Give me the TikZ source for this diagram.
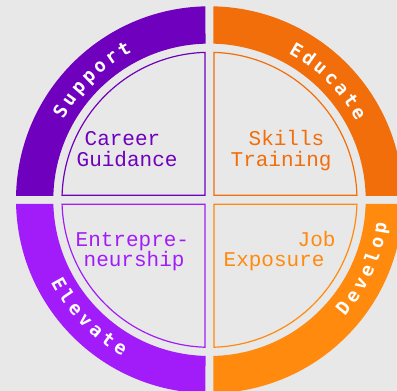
\documentclass[tikz,border=0pt]{standalone}
\usepackage{fontspec}
\newfontfamily\monofont{Liberation Mono}
\newfontfamily\ringfont{DejaVu Sans Mono}
\definecolor{cSup}{HTML}{6F00BE}
\definecolor{cEdu}{HTML}{F26E0A}
\definecolor{cEle}{HTML}{A21CFA}
\definecolor{cDev}{HTML}{FF8A0D}
\definecolor{bgc}{HTML}{E8E8E8}
\tikzset{
  ringlbl/.style={font=\ringfont\bfseries\fontsize{18.5}{18.5}\selectfont, text=white, inner sep=0pt, anchor=base},
  innerlbl/.style={font=\monofont\fontsize{21}{21}\selectfont, inner sep=0pt, anchor=base west},
  quadline/.style={line width=1.2pt},
}
\begin{document}
\begin{tikzpicture}[x=1pt,y=1pt]
\useasboundingbox (-209.5,-191.2) rectangle (187.5,199.8);
\fill[bgc] (-209.5,-191.2) rectangle (187.5,199.8);
\clip (-209.5,-191.2) rectangle (187.5,199.8);
% ring sectors and inner quarter outlines
\foreach \rot/\col in {0/cEdu, 90/cSup, 180/cEle, 270/cDev}{
  \begin{scope}[rotate=\rot]
    \fill[\col] (88.815:193.5pt) arc[start angle=88.815, end angle=1.185, radius=193.5pt]
      -- (1.467:156.2pt) arc[start angle=1.467, end angle=88.533, radius=156.2pt] -- cycle;
    \draw[\col, quadline] (4.5pt,4.5pt) -- (1.748:147.5pt)
      arc[start angle=1.748, end angle=88.252, radius=147.5pt] -- cycle;
  \end{scope}
}
% ring labels
\foreach \ch [count=\i, evaluate=\i as \a using 149.35-(\i-1)*4.95] in {S,u,p,p,o,r,t}
  \node[ringlbl, rotate=\a-90] (sup\i) at (\a:166.5pt) {\ch};
\foreach \ch [count=\i, evaluate=\i as \a using 59.85-(\i-1)*4.95] in {E,d,u,c,a,t,e}
  \node[ringlbl, rotate=\a-90] (edu\i) at (\a:166.5pt) {\ch};
\foreach \ch [count=\i, evaluate=\i as \a using 209.3+(\i-1)*4.95] in {E,l,e,v,a,t,e}
  \node[ringlbl, rotate=\a+90] (ele\i) at (\a:179pt) {\ch};
\foreach \ch [count=\i, evaluate=\i as \a using -39.05+(\i-1)*4.95] in {D,e,v,e,l,o,p}
  \node[ringlbl, rotate=\a+90] (dev\i) at (\a:179pt) {\ch};
% inner labels
\node[innerlbl, text=cSup] (career) at (-125,53.8) {Career};
\node[innerlbl, text=cSup] (guid) at (-133,32.8) {Guidance};
\node[innerlbl, text=cEdu] (skills) at (39,53.8) {Skills};
\node[innerlbl, text=cEdu] (train) at (21,32.8) {Training};
\node[innerlbl, text=cEle] (entre) at (-134,-46.2) {Entrepre-};
\node[innerlbl, text=cEle] (neur) at (-126,-66.2) {neurship};
\node[innerlbl, text=cDev] (job) at (88,-46.2) {Job};
\node[innerlbl, text=cDev] (expo) at (14,-66.2) {Exposure};
\end{tikzpicture}
\end{document}
